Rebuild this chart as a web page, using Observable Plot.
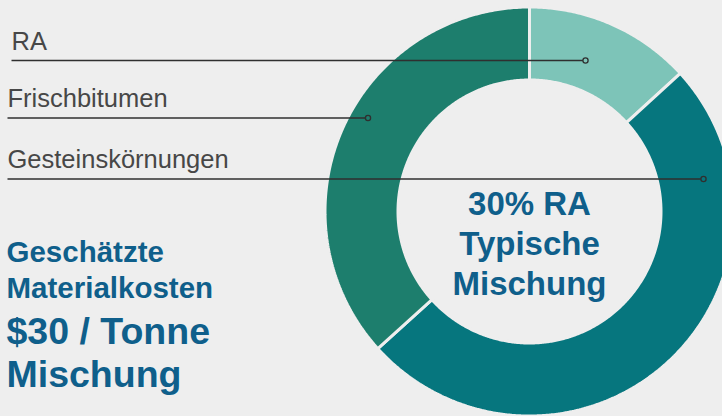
<!DOCTYPE html>
<html>
<head>
<meta charset="utf-8">
<script src="https://cdn.jsdelivr.net/npm/d3@7"></script>
<script src="https://cdn.jsdelivr.net/npm/@observablehq/plot@0.6"></script>
<style>
  html, body { margin: 0; padding: 0; background: #eeeeee; }
  #chart svg { display: block; }
</style>
</head>
<body>
<div id="chart"></div>
<script>
// ---- data ----
const categories = ["RA", "Gesteinskörnungen", "Frischbitumen"];   // clockwise from 12 o'clock
const shares = [13.2, 50.1, 36.7];                                   // % of mix (read from the ring)
const colors = ["#7dc4b8", "#06767e", "#1d7e6d"];
const legendOrder = ["RA", "Frischbitumen", "Gesteinskörnungen"];
const centerLines = ["30% RA", "Typische", "Mischung"];
const costLines = ["Geschätzte", "Materialkosten", "$30 / Tonne", "Mischung"];

// ---- layout (pixels) ----
const W = 722, H = 416;
const cx = 529, cy = 211, R = 203, Rin = 133;
const u = px => (px - cx) / R;       // pixel -> ring units (x)
const v = py => (cy - py) / R;       // pixel -> ring units (y, up)
const leaderLayout = {
  "RA":                {x0: 11, y: 60,    dotX: 585},
  "Frischbitumen":     {x0: 7,  y: 117.5, dotX: 367.5},
  "Gesteinskörnungen": {x0: 7,  y: 178.5, dotX: 703}
};
const centerBaselines = [214.5, 254.5, 294];
const costBaselines = [261.5, 297, 343, 386.5];
const costSizes = [29.5, 29.5, 37.5, 37.5];

// ---- ring geometry from the data ----
const arcs = d3.pie().sort(null).value(d => d)(shares);
const gap = 1.5 / R;
const ringPts = [];
arcs.forEach((s, i) => {
  const key = categories[i];
  const n = Math.max(8, Math.ceil((s.endAngle - s.startAngle) / (Math.PI / 360)));
  const pts = [];
  for (let k = 0; k <= n; k++) pts.push([s.startAngle + (s.endAngle - s.startAngle) * k / n, 1 + gap]);
  for (let k = n; k >= 0; k--) pts.push([s.startAngle + (s.endAngle - s.startAngle) * k / n, Rin / R - gap]);
  pts.push(pts[0]);
  pts.forEach(([a, r]) => ringPts.push({key, x: r * Math.sin(a), y: r * Math.cos(a)}));
});

const leaders = legendOrder.map(k => ({
  key: k,
  x1: u(leaderLayout[k].x0),
  x2: u(leaderLayout[k].dotX),
  y: v(leaderLayout[k].y)
}));
const centerText = centerLines.map((t, i) => ({t, x: 0, y: v(centerBaselines[i])}));
const costText = costLines.map((t, i) => ({t, x: u(6), y: v(costBaselines[i]), s: costSizes[i]}));

const chart = Plot.plot({
  width: W,
  height: H,
  margin: 0,
  x: {type: "linear", domain: [u(0), u(W)], axis: null},
  y: {type: "linear", domain: [v(H), v(0)], axis: null},
  color: {domain: categories, range: colors},
  style: {background: "#eeeeee", fontFamily: "'Liberation Sans', Arial, Helvetica, sans-serif", overflow: "visible"},
  marks: [
    Plot.line(ringPts, {
      x: "x", y: "y", z: "key", fill: "key",
      stroke: "#eeeeee", strokeWidth: 3, strokeLinejoin: "miter", curve: "linear"
    }),
    Plot.link(leaders, {x1: "x1", x2: "x2", y1: "y", y2: "y", stroke: "#2f2f2f", strokeWidth: 1.5}),
    Plot.dot(leaders, {x: "x2", y: "y", r: 2.6, fill: "key", stroke: "#2f2f2f", strokeWidth: 1.3}),
    Plot.text(leaders, {
      x: "x1", y: "y", text: "key", textAnchor: "start", lineAnchor: "bottom", dy: -11,
      fontSize: 25.5, fill: "#474747", fontWeight: 300
    }),
    Plot.text(centerText, {
      x: "x", y: "y", text: "t", textAnchor: "middle", lineAnchor: "bottom",
      fontSize: 33, fontWeight: "bold", fill: "#0f5f8b"
    }),
    Plot.text(costText, {
      x: "x", y: "y", text: "t", textAnchor: "start", lineAnchor: "bottom",
      fontSize: d => d.s, fontWeight: "bold", fill: "#0f5f8b"
    })
  ]
});
document.getElementById("chart").appendChild(chart);
</script>
</body>
</html>
